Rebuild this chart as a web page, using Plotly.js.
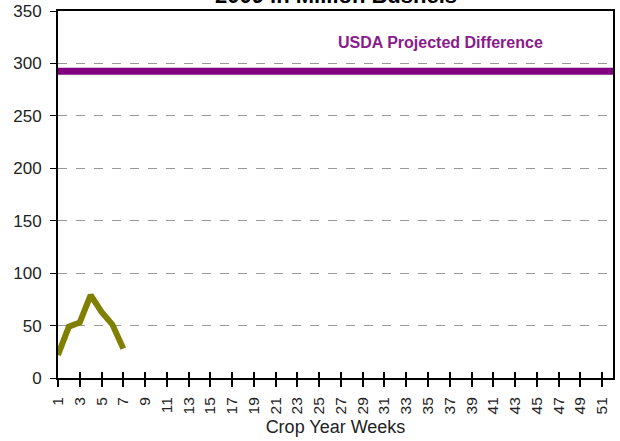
<!DOCTYPE html>
<html>
<head>
<meta charset="utf-8">
<script src="https://cdn.plot.ly/plotly-3.0.1.min.js"></script>
<style>body{margin:0;padding:0;background:#fff;} #chart{width:620px;height:441px;}</style>
</head>
<body>
<div id="chart"></div>
<script>
var weeks = [1, 2, 3, 4, 5, 6, 7];
var difference = [22, 49, 53, 79, 63, 51, 28];
var projectedWeeks = [1, 52];
var projectedValue = [292.5, 292.5];
var tickWeeks = [1,3,5,7,9,11,13,15,17,19,21,23,25,27,29,31,33,35,37,39,41,43,45,47,49,51];
var tickLabels = tickWeeks.map(String);
var yTicks = [0, 50, 100, 150, 200, 250, 300, 350];

var traces = [
  {x: projectedWeeks, y: projectedValue, mode: 'lines', line: {color: '#800080', width: 7}, hoverinfo: 'none'},
  {x: weeks, y: difference, mode: 'lines', line: {color: '#808000', width: 6}, hoverinfo: 'none'},
  {x: [1], y: [null], xaxis: 'x2', yaxis: 'y', mode: 'lines', hoverinfo: 'none'}
];

var layout = {
  width: 620, height: 441,
  margin: {l: 58, r: 7, t: 11, b: 63},
  showlegend: false,
  paper_bgcolor: '#fff', plot_bgcolor: '#fff',
  font: {family: 'Liberation Sans, Arial, sans-serif', color: '#222'},
  xaxis: {
    range: [1, 52], tickmode: 'array', tickvals: tickWeeks, ticktext: tickLabels,
    tickangle: -90, tickfont: {size: 15.5, color: '#222'},
    ticks: 'outside', ticklen: 7, tickwidth: 2, tickcolor: '#000', ticklabelstandoff: 4,
    showline: true, linecolor: '#000', linewidth: 2, mirror: true,
    showgrid: false, zeroline: false,
    title: {text: 'Crop Year Weeks', font: {size: 18, color: '#222'}, standoff: 7}
  },
  xaxis2: {
    range: [1, 52], overlaying: 'x', tickmode: 'array', tickvals: tickWeeks,
    showticklabels: false, ticks: 'inside', ticklen: 6, tickwidth: 2, tickcolor: '#000',
    showgrid: false, zeroline: false, showline: false, anchor: 'y'
  },
  yaxis: {
    range: [0, 350], tickmode: 'array', tickvals: yTicks,
    tickfont: {size: 17, color: '#222'},
    ticks: 'outside', ticklen: 6, tickwidth: 1, tickcolor: '#000', ticklabelstandoff: 5,
    showline: true, linecolor: '#000', linewidth: 2, mirror: true,
    showgrid: true, gridcolor: '#999', griddash: 'dash', gridwidth: 1, zeroline: false
  },
  annotations: [
    {
      text: '<b>2009 in Million Bushels</b>', x: 0.5, y: 1.004, xref: 'paper', yref: 'paper',
      xanchor: 'center', yanchor: 'bottom', showarrow: false,
      font: {size: 22, color: '#000', family: 'Liberation Sans, Arial, sans-serif'}
    },
    {
      text: '<b>USDA Projected Difference</b>', x: 0.69, y: 320, xref: 'paper', yref: 'y',
      xanchor: 'center', yanchor: 'middle', showarrow: false,
      font: {size: 16, color: '#8b1a8b', family: 'Liberation Sans, Arial, sans-serif'}
    }
  ]
};

Plotly.newPlot('chart', traces, layout, {displayModeBar: false, staticPlot: true});
</script>
</body>
</html>
